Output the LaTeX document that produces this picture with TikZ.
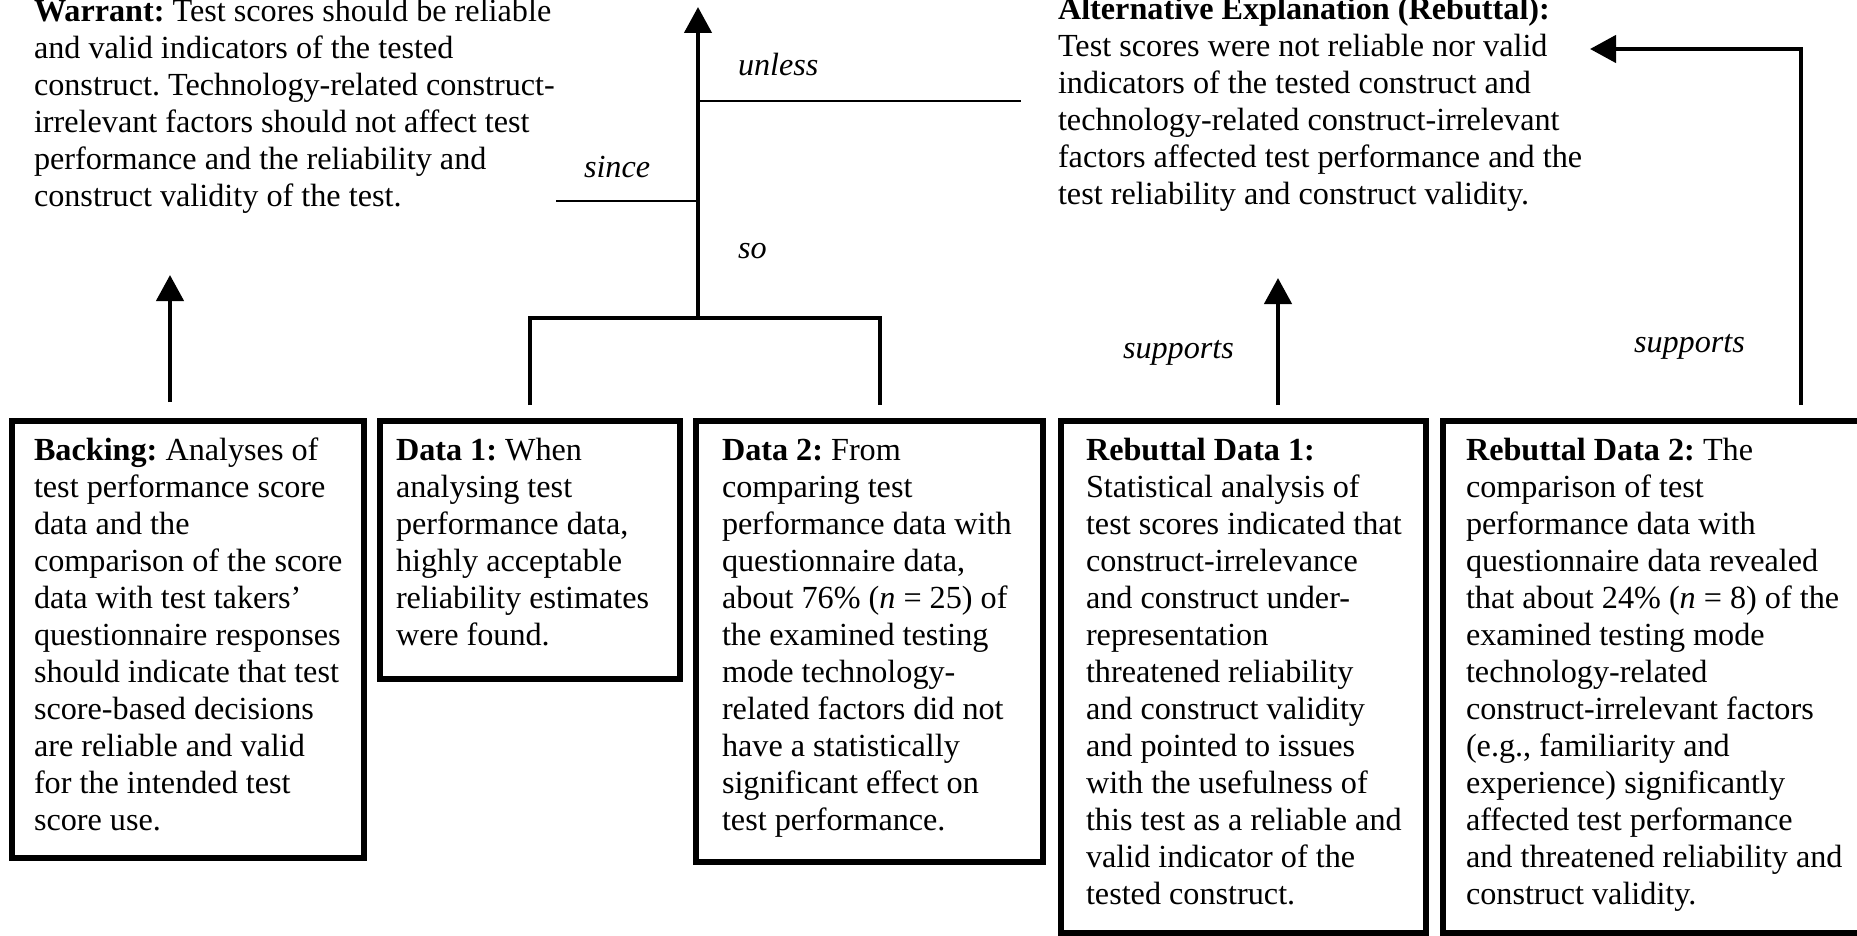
\documentclass[tikz,border=0pt]{standalone}
\usepackage{fontspec}
\setmainfont{Liberation Serif}
\usetikzlibrary{arrows.meta}
\frenchspacing
\newcommand{\ml}[1]{\begin{tabular}[t]{@{}l@{}}#1\end{tabular}}
\begin{document}
\frenchspacing
\begin{tikzpicture}[x=1pt,y=-1pt,
  every node/.style={inner sep=0pt, outer sep=0pt},
  box/.style={draw, line width=6pt, anchor=north west},
  txt/.style={anchor=base west, font=\fontsize{32.2}{37}\selectfont},
  lbl/.style={anchor=base west, font=\fontsize{32.2}{37}\selectfont\itshape},
  conn/.style={line width=4.5pt},
  arr/.style={line width=4.5pt, -{Triangle[length=26pt,width=27pt]}},
  rulel/.style={line width=2pt}]
\useasboundingbox (0,0) rectangle (1857,936);

% boxes
\node[box, minimum width=352pt, minimum height=437pt] (bk) at (12,421) {};
\node[box, minimum width=300pt, minimum height=258pt] (d1) at (380,421) {};
\node[box, minimum width=347pt, minimum height=441pt] (d2) at (696,421) {};
\node[box, minimum width=365pt, minimum height=512pt] (r1) at (1061,421) {};
\node[box, minimum width=440pt, minimum height=512pt] (r2) at (1443,421) {};

% box texts
\node[txt] (bkt) at (34,460) {\ml{\textbf{Backing:} Analyses of\\
test performance score\\
data and the\\
comparison of the score\\
data with test takers’\\
questionnaire responses\\
should indicate that test\\
score-based decisions\\
are reliable and valid\\
for the intended test\\
score use.}};

\node[txt] (d1t) at (396,460) {\ml{\textbf{Data 1:} When\\
analysing test\\
performance data,\\
highly acceptable\\
reliability estimates\\
were found.}};

\node[txt] (d2t) at (722,460) {\ml{\textbf{Data 2:} From\\
comparing test\\
performance data with\\
questionnaire data,\\
about 76\% (\textit{n} = 25) of\\
the examined testing\\
mode technology-\\
related factors did not\\
have a statistically\\
significant effect on\\
test performance.}};

\node[txt] (r1t) at (1086,460) {\ml{\textbf{Rebuttal Data 1:}\\
Statistical analysis of\\
test scores indicated that\\
construct-irrelevance\\
and construct under-\\
representation\\
threatened reliability\\
and construct validity\\
and pointed to issues\\
with the usefulness of\\
this test as a reliable and\\
valid indicator of the\\
tested construct.}};

\node[txt] (r2t) at (1466,460) {\ml{\textbf{Rebuttal Data 2:} The\\
comparison of test\\
performance data with\\
questionnaire data revealed\\
that about 24\% (\textit{n} = 8) of the\\
examined testing mode\\
technology-related\\
construct-irrelevant factors\\
(e.g., familiarity and\\
experience) significantly\\
affected test performance\\
and threatened reliability and\\
construct validity.}};

% top texts
\node[txt] (warrant) at (34,22) {\ml{\textbf{Warrant:} Test scores should be reliable\\
and valid indicators of the tested\\
construct. Technology-related construct-\\
irrelevant factors should not affect test\\
performance and the reliability and\\
construct validity of the test.}};

\node[txt] (alt) at (1058,20) {\ml{\textbf{Alternative Explanation (Rebuttal):}\\
Test scores were not reliable nor valid\\
indicators of the tested construct and\\
technology-related construct-irrelevant\\
factors affected test performance and the\\
test reliability and construct validity.}};

% labels
\node[lbl] (unlessl) at (738,76) {unless};
\node[lbl] (sincel) at (584,178) {since};
\node[lbl] (sol) at (738,258) {so};
\node[lbl] (sup1) at (1123,358) {supports};
\node[lbl] (sup2) at (1634,352) {supports};

% connector points
\coordinate (claim) at (698,7);
\coordinate (j) at (698,318);
\coordinate (d2leg) at (880,405);
\coordinate (bkup) at (170,402);
\coordinate (wtip) at (170,275);
\coordinate (sinceL) at (556,201);
\coordinate (unlessR) at (1021,101);
\coordinate (r1up) at (1278,405);
\coordinate (atip) at (1278,278);
\coordinate (r2up) at (1801,405);
\coordinate (atip2) at (1590,49);

% connectors
\draw[conn] ([yshift=16pt]d1.north) |- (j) -| (d2leg);
\draw[arr] (j) -- (claim);
\draw[rulel] (sinceL) -- (sinceL -| j);
\draw[rulel] (unlessR -| j) -- (unlessR);
\draw[arr] (bkup) -- (wtip);
\draw[arr] (r1up) -- (atip);
\draw[arr] (r2up) |- (atip2);
\end{tikzpicture}
\end{document}
